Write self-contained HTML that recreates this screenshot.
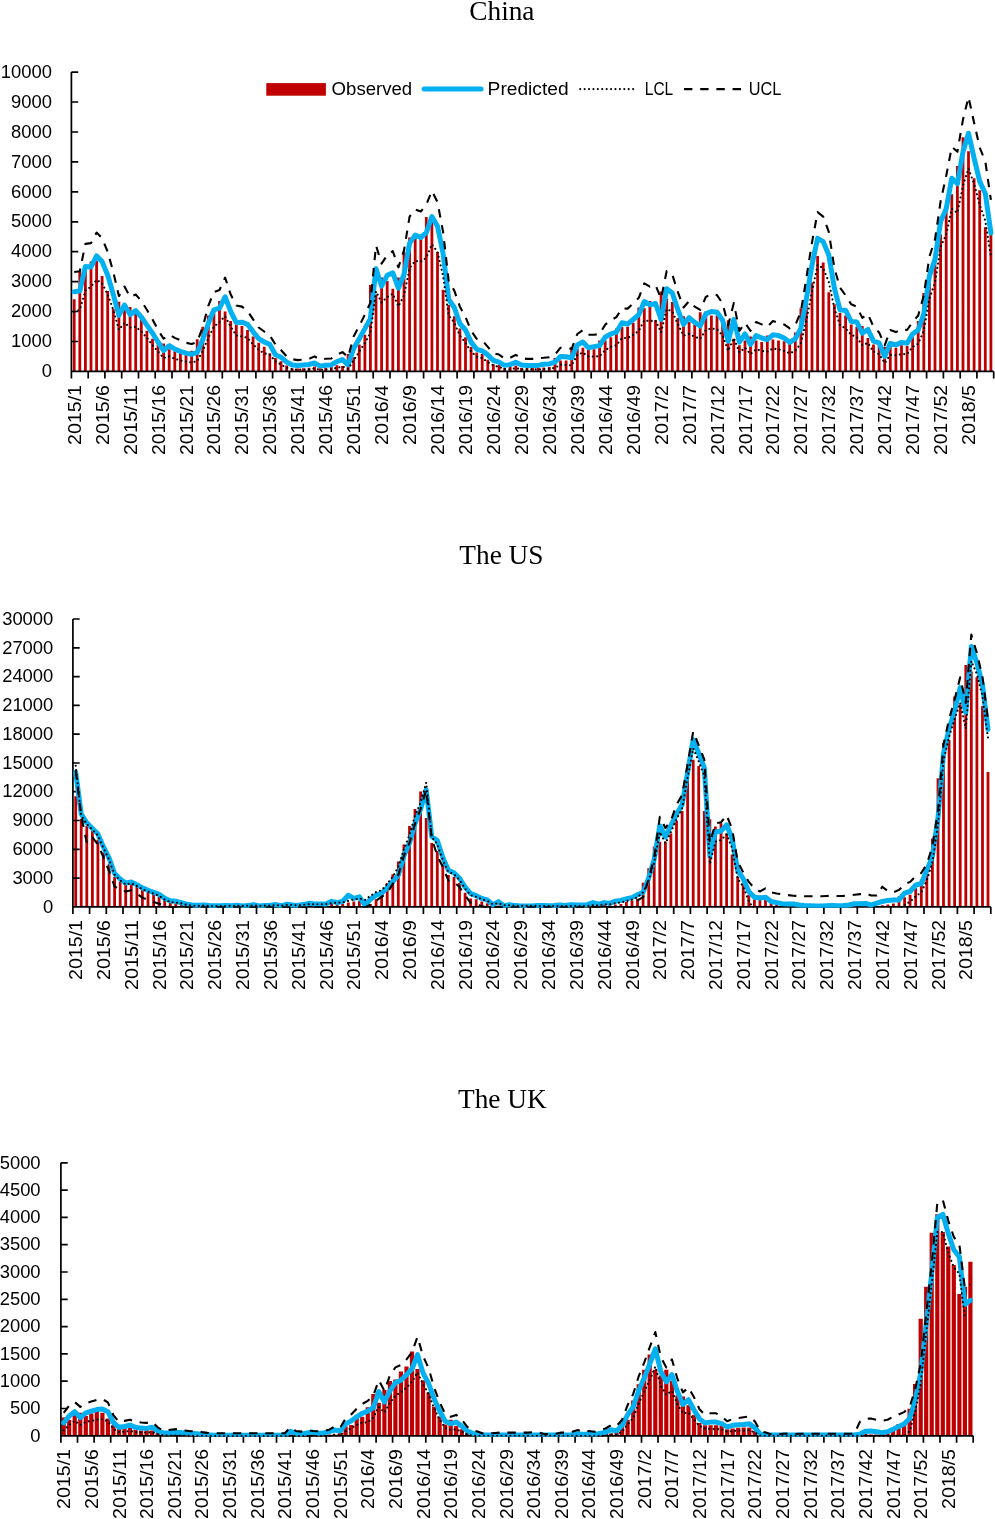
<!DOCTYPE html>
<html lang="en"><head><meta charset="utf-8"><title>Observed and predicted weekly counts: China, The US, The UK</title>
<style>html,body{margin:0;padding:0;background:#fff}body{width:995px;height:1519px;overflow:hidden}svg{display:block;will-change:transform}
.ax{font-family:"Liberation Sans", sans-serif;font-size:18.4px;fill:#000}.lg{font-family:"Liberation Sans", sans-serif;font-size:17.5px;fill:#000}.tt{font-family:"Liberation Serif", serif;font-size:27.3px;fill:#000;text-anchor:middle}
.bar{fill:#C00000}.pred{fill:none;stroke:#00B0F0;stroke-width:5;stroke-linejoin:round;stroke-linecap:round}
.lcl{fill:none;stroke:#000;stroke-width:2.1;stroke-linecap:round;stroke-linejoin:round;stroke-dasharray:0.01 4.4}
.ucl{fill:none;stroke:#000;stroke-width:2.1;stroke-linejoin:round;stroke-dasharray:8.4 7.8}
.axl{stroke:#000;stroke-width:1.7;fill:none}
</style></head><body>
<svg width="995" height="1519" viewBox="0 0 995 1519">
<rect width="995" height="1519" fill="#fff"/>
<g>
<text class="tt" x="501.9" y="19.7">China</text>
<path class="bar" d="M72.8 371.4V299.3h2.8V371.4zM78.4 371.4V271.2h2.8V371.4zM84 371.4V267.2h2.8V371.4zM89.6 371.4V261.6h2.8V371.4zM95.2 371.4V260.8h2.8V371.4zM100.7 371.4V276h2.8V371.4zM106.3 371.4V291h2.8V371.4zM111.9 371.4V309h2.8V371.4zM117.5 371.4V301.8h2.8V371.4zM123.1 371.4V305.8h2.8V371.4zM128.7 371.4V307.1h2.8V371.4zM134.3 371.4V312.2h2.8V371.4zM139.9 371.4V318.6h2.8V371.4zM145.5 371.4V330.7h2.8V371.4zM151.1 371.4V338.7h2.8V371.4zM156.6 371.4V344.4h2.8V371.4zM162.2 371.4V343.6h2.8V371.4zM167.8 371.4V349.2h2.8V371.4zM173.4 371.4V351.6h2.8V371.4zM179 371.4V352.4h2.8V371.4zM184.6 371.4V354h2.8V371.4zM190.2 371.4V350.8h2.8V371.4zM195.8 371.4V339.2h2.8V371.4zM201.4 371.4V326.7h2.8V371.4zM206.9 371.4V315.4h2.8V371.4zM212.5 371.4V312.2h2.8V371.4zM218.1 371.4V301h2.8V371.4zM223.7 371.4V311.4h2.8V371.4zM229.3 371.4V321.1h2.8V371.4zM234.9 371.4V325.1h2.8V371.4zM240.5 371.4V325.9h2.8V371.4zM246.1 371.4V329.9h2.8V371.4zM251.7 371.4V336.6h2.8V371.4zM257.3 371.4V342.8h2.8V371.4zM262.8 371.4V346.8h2.8V371.4zM268.4 371.4V353.2h2.8V371.4zM274 371.4V358h2.8V371.4zM279.6 371.4V361.2h2.8V371.4zM285.2 371.4V365.6h2.8V371.4zM290.8 371.4V368.2h2.8V371.4zM296.4 371.4V368.5h2.8V371.4zM302 371.4V368.2h2.8V371.4zM307.6 371.4V367.7h2.8V371.4zM313.2 371.4V366.6h2.8V371.4zM318.7 371.4V368.2h2.8V371.4zM324.3 371.4V367.7h2.8V371.4zM329.9 371.4V366.9h2.8V371.4zM335.5 371.4V365.3h2.8V371.4zM341.1 371.4V366.1h2.8V371.4zM346.7 371.4V354h2.8V371.4zM352.3 371.4V357.2h2.8V371.4zM357.9 371.4V344.4h2.8V371.4zM363.5 371.4V334.7h2.8V371.4zM369 371.4V284.9h2.8V371.4zM374.6 371.4V294.5h2.8V371.4zM380.2 371.4V277.6h2.8V371.4zM385.8 371.4V281h2.8V371.4zM391.4 371.4V288.7h2.8V371.4zM397 371.4V277.4h2.8V371.4zM402.6 371.4V252h2.8V371.4zM408.2 371.4V237.5h2.8V371.4zM413.8 371.4V239.1h2.8V371.4zM419.4 371.4V239.1h2.8V371.4zM424.9 371.4V217h2.8V371.4zM430.5 371.4V223.1h2.8V371.4zM436.1 371.4V252h2.8V371.4zM441.7 371.4V289.8h2.8V371.4zM447.3 371.4V305.1h2.8V371.4zM452.9 371.4V316.3h2.8V371.4zM458.5 371.4V328.4h2.8V371.4zM464.1 371.4V337.2h2.8V371.4zM469.7 371.4V346.9h2.8V371.4zM475.3 371.4V352.5h2.8V371.4zM480.8 371.4V354.1h2.8V371.4zM486.4 371.4V359.7h2.8V371.4zM492 371.4V364.2h2.8V371.4zM497.6 371.4V364.9h2.8V371.4zM503.2 371.4V368.1h2.8V371.4zM508.8 371.4V367h2.8V371.4zM514.4 371.4V365.4h2.8V371.4zM520 371.4V368.1h2.8V371.4zM525.6 371.4V368.1h2.8V371.4zM531.2 371.4V367.8h2.8V371.4zM536.7 371.4V367.8h2.8V371.4zM542.3 371.4V367.5h2.8V371.4zM547.9 371.4V367h2.8V371.4zM553.5 371.4V358.1h2.8V371.4zM559.1 371.4V360.5h2.8V371.4zM564.7 371.4V360.5h2.8V371.4zM570.3 371.4V346.9h2.8V371.4zM575.9 371.4V348.5h2.8V371.4zM581.5 371.4V347.7h2.8V371.4zM587 371.4V350.1h2.8V371.4zM592.6 371.4V349.3h2.8V371.4zM598.2 371.4V340.4h2.8V371.4zM603.8 371.4V340.4h2.8V371.4zM609.4 371.4V337.2h2.8V371.4zM615 371.4V328.4h2.8V371.4zM620.6 371.4V326.8h2.8V371.4zM626.2 371.4V326.8h2.8V371.4zM631.8 371.4V322.8h2.8V371.4zM637.4 371.4V307.5h2.8V371.4zM642.9 371.4V308.3h2.8V371.4zM648.5 371.4V301.1h2.8V371.4zM654.1 371.4V320.3h2.8V371.4zM659.7 371.4V291.4h2.8V371.4zM665.3 371.4V298.6h2.8V371.4zM670.9 371.4V301.9h2.8V371.4zM676.5 371.4V317.9h2.8V371.4zM682.1 371.4V316.3h2.8V371.4zM687.7 371.4V322h2.8V371.4zM693.3 371.4V324.4h2.8V371.4zM698.8 371.4V312.3h2.8V371.4zM704.4 371.4V311.5h2.8V371.4zM710 371.4V315.5h2.8V371.4zM715.6 371.4V315.5h2.8V371.4zM721.2 371.4V324.4h2.8V371.4zM726.8 371.4V320.3h2.8V371.4zM732.4 371.4V338.8h2.8V371.4zM738 371.4V345.3h2.8V371.4zM743.6 371.4V340.4h2.8V371.4zM749.1 371.4V336.4h2.8V371.4zM754.7 371.4V340.4h2.8V371.4zM760.3 371.4V342.1h2.8V371.4zM765.9 371.4V335.6h2.8V371.4zM771.5 371.4V339.6h2.8V371.4zM777.1 371.4V340.4h2.8V371.4zM782.7 371.4V341.2h2.8V371.4zM788.3 371.4V343.7h2.8V371.4zM793.9 371.4V332.4h2.8V371.4zM799.5 371.4V308.3h2.8V371.4zM805 371.4V285h2.8V371.4zM810.6 371.4V282.6h2.8V371.4zM816.2 371.4V256h2.8V371.4zM821.8 371.4V262.5h2.8V371.4zM827.4 371.4V292.2h2.8V371.4zM833 371.4V304.3h2.8V371.4zM838.6 371.4V313.1h2.8V371.4zM844.2 371.4V315.5h2.8V371.4zM849.8 371.4V324.4h2.8V371.4zM855.4 371.4V326.8h2.8V371.4zM860.9 371.4V326h2.8V371.4zM866.5 371.4V338h2.8V371.4zM872.1 371.4V344.5h2.8V371.4zM877.7 371.4V346.1h2.8V371.4zM883.3 371.4V346.9h2.8V371.4zM888.9 371.4V346.9h2.8V371.4zM894.5 371.4V347.7h2.8V371.4zM900.1 371.4V345.3h2.8V371.4zM905.7 371.4V346.1h2.8V371.4zM911.2 371.4V337.2h2.8V371.4zM916.8 371.4V321.1h2.8V371.4zM922.4 371.4V293h2.8V371.4zM928 371.4V282.6h2.8V371.4zM933.6 371.4V259.4h2.8V371.4zM939.2 371.4V234.5h2.8V371.4zM944.8 371.4V209.5h2.8V371.4zM950.4 371.4V194.3h2.8V371.4zM956 371.4V166.1h2.8V371.4zM961.6 371.4V137.2h2.8V371.4zM967.1 371.4V151.3h2.8V371.4zM972.7 371.4V178.2h2.8V371.4zM978.3 371.4V190.2h2.8V371.4zM983.9 371.4V227.2h2.8V371.4zM989.5 371.4V234.5h2.8V371.4z"/>
<path class="axl" d="M71.4 72.1V371.4H993.7M71.4 371.4h6.8M71.4 341.5h6.8M71.4 311.5h6.8M71.4 281.6h6.8M71.4 251.7h6.8M71.4 221.8h6.8M71.4 191.8h6.8M71.4 161.9h6.8M71.4 132h6.8M71.4 102h6.8M71.4 72.1h6.8M71.4 371.4v7M88.2 371.4v7M104.9 371.4v7M121.7 371.4v7M138.5 371.4v7M155.2 371.4v7M172 371.4v7M188.8 371.4v7M205.6 371.4v7M222.3 371.4v7M239.1 371.4v7M255.9 371.4v7M272.6 371.4v7M289.4 371.4v7M306.2 371.4v7M322.9 371.4v7M339.7 371.4v7M356.5 371.4v7M373.2 371.4v7M390 371.4v7M406.8 371.4v7M423.6 371.4v7M440.3 371.4v7M457.1 371.4v7M473.9 371.4v7M490.6 371.4v7M507.4 371.4v7M524.2 371.4v7M540.9 371.4v7M557.7 371.4v7M574.5 371.4v7M591.2 371.4v7M608 371.4v7M624.8 371.4v7M641.5 371.4v7M658.3 371.4v7M675.1 371.4v7M691.9 371.4v7M708.6 371.4v7M725.4 371.4v7M742.2 371.4v7M758.9 371.4v7M775.7 371.4v7M792.5 371.4v7M809.2 371.4v7M826 371.4v7M842.8 371.4v7M859.5 371.4v7M876.3 371.4v7M893.1 371.4v7M909.9 371.4v7M926.6 371.4v7M943.4 371.4v7M960.2 371.4v7M976.9 371.4v7M993.7 371.4v7"/>
<clipPath id="clip0"><rect x="0" y="0" width="995" height="372.3"/></clipPath>
<g clip-path="url(#clip0)">
<polyline class="pred" points="74.2,291.8 79.8,291 85.4,266.4 91,266.9 96.6,255.9 102.1,261.6 107.7,275.2 113.3,294.5 118.9,315.4 124.5,305 130.1,314.6 135.7,310.6 141.3,317 146.9,325.1 152.5,333.1 158,342 163.6,350.5 169.2,345.7 174.8,349.2 180.4,351.3 186,353.2 191.6,354.3 197.2,352.4 202.8,339.5 208.3,323.5 213.9,309.8 219.5,308.2 225.1,296.8 230.7,311.4 236.3,322.7 241.9,322.2 247.5,324.3 253.1,331.8 258.7,338.7 264.2,342 269.8,344.4 275.4,354.8 281,357.2 286.6,362.1 292.2,364.9 297.8,365.6 303.4,364.9 309,364.5 314.6,362.9 320.1,366.1 325.7,365.3 331.3,364.9 336.9,361.7 342.5,359.6 348.1,364.8 353.7,348.4 359.3,338.7 364.9,328.6 370.4,318.6 376,268.8 381.6,286.2 387.2,275.3 392.8,272.9 398.4,288.2 404,274.5 409.6,243.2 415.2,235.1 420.8,237.5 426.3,232.7 431.9,216.6 437.5,226.3 443.1,253.6 448.7,299.4 454.3,307.5 459.9,323.6 465.5,330 471.1,342.1 476.7,349.3 482.2,350.9 487.8,354.9 493.4,360.5 499,362.2 504.6,365.4 510.2,364.6 515.8,362.2 521.4,365 527,365.4 532.6,365.4 538.1,365.4 543.7,364.2 549.3,363.9 554.9,362.2 560.5,356.5 566.1,356.8 571.7,357.8 577.3,344.9 582.9,342.1 588.4,347.7 594,346.6 599.6,345.6 605.2,337.2 610.8,334 616.4,332.1 622,322.8 627.6,324 633.2,319.5 638.8,314.7 644.3,301.5 649.9,304.7 655.5,303.5 661.1,319.5 666.7,288.7 672.3,293 677.9,309.9 683.5,324.4 689.1,317.6 694.7,322.4 700.2,326 705.8,313.9 711.4,311.5 717,312.3 722.6,320.3 728.2,341.2 733.8,319.5 739.4,342.1 745,334 750.5,344.5 756.1,335.6 761.7,338 767.3,339.6 772.9,334.8 778.5,335.6 784.1,338 789.7,342.4 795.3,338.8 800.9,328.4 806.4,298.6 812,264.9 817.6,238.3 823.2,241.6 828.8,255.2 834.4,288.2 840,309.9 845.6,310.2 851.2,321.5 856.8,322 862.3,333.2 867.9,329.5 873.5,341.2 879.1,342.9 884.7,356.5 890.3,343.3 895.9,344.9 901.5,342.4 907.1,343.3 912.6,334 918.2,330 923.8,313.9 929.4,276.1 935,259.4 940.6,221.6 946.2,208.7 951.8,178.2 957.4,183.8 963,151.7 968.5,133.2 974.1,158.1 979.7,181.4 985.3,193.5 990.9,232.9"/>
<polyline class="lcl" points="74.2,312.2 79.8,309.8 85.4,290.5 91,286.5 96.6,280 102.1,283.3 107.7,294.5 113.3,309.8 118.9,329.9 124.5,322.7 130.1,327.5 135.7,326.7 141.3,331.5 146.9,337.9 152.5,345.2 158,351.6 163.6,358 169.2,356.4 174.8,358.8 180.4,360.4 186,361.7 191.6,362.4 197.2,361.2 202.8,350.8 208.3,337.9 213.9,326.7 219.5,321.9 225.1,316.2 230.7,326.7 236.3,335.5 241.9,336.3 247.5,337.9 253.1,344.4 258.7,350 264.2,353.2 269.8,354.8 275.4,361.2 281,364.5 286.6,367.7 292.2,369.3 297.8,369.8 303.4,369.5 309,369.3 314.6,368.5 320.1,369.8 325.7,369.5 331.3,369.3 336.9,367.7 342.5,366.6 348.1,368.8 353.7,360.4 359.3,351.6 364.9,342.8 370.4,333.1 376,291.3 381.6,302.6 387.2,297 392.8,293.8 398.4,306.4 404,295.4 409.6,268.1 415.2,260.9 420.8,261.7 426.3,257.6 431.9,244.3 437.5,252 443.1,276.1 448.7,315.5 454.3,322.8 459.9,335.6 465.5,342.9 471.1,351.7 476.7,356.5 482.2,358.1 487.8,362.2 493.4,365.4 499,367 504.6,369.1 510.2,369.4 515.8,368.1 521.4,369.4 527,369.4 532.6,369.4 538.1,369.4 543.7,369.1 549.3,368.7 554.9,367.8 560.5,364.6 566.1,364.9 571.7,365.4 577.3,354.9 582.9,352.5 588.4,356.5 594,356.5 599.6,356.2 605.2,350.1 610.8,346.9 616.4,345.3 622,338 627.6,338 633.2,334.8 638.8,330.8 644.3,320.3 649.9,321.1 655.5,320.3 661.1,332.4 666.7,309.1 672.3,311.5 677.9,324.4 683.5,335.6 689.1,334 694.7,336.7 700.2,338.8 705.8,330 711.4,328.4 717,329.2 722.6,335.6 728.2,350.9 733.8,338 739.4,352.5 745,347.7 750.5,354.1 756.1,349.3 761.7,350.9 767.3,351.7 772.9,348.5 778.5,349.3 784.1,350.9 789.7,353.3 795.3,350.9 800.9,342.9 806.4,320.3 812,291.4 817.6,264.9 823.2,268.1 828.8,281.8 834.4,308.3 840,325.2 845.6,328.4 851.2,334.8 856.8,337.2 862.3,345.3 867.9,342.9 873.5,351.7 879.1,354.1 884.7,363 890.3,354.9 895.9,355.2 901.5,354.1 907.1,354.1 912.6,346.9 918.2,343.7 923.8,330.8 929.4,298.6 935,282.7 940.6,247.3 946.2,234.5 951.8,208.7 957.4,212.8 963,185.4 968.5,168.5 974.1,183.8 979.7,204.7 985.3,220.8 990.9,257"/>
<polyline class="ucl" points="74.2,272 79.8,271.2 85.4,243.9 91,243.1 96.6,232.6 102.1,238.2 107.7,251.9 113.3,272 118.9,296.1 124.5,286.5 130.1,296.9 135.7,294.5 141.3,301 146.9,309.8 152.5,319.4 158,329.9 163.6,338.7 169.2,334.7 174.8,337.9 180.4,340.3 186,342.8 191.6,344 197.2,342 202.8,326.7 208.3,305.8 213.9,292.1 219.5,290 225.1,277.6 230.7,294.5 236.3,305.5 241.9,306.6 247.5,310.9 253.1,319.4 258.7,327.5 264.2,331.5 269.8,335.5 275.4,344.4 281,350 286.6,356.4 292.2,359.2 297.8,360.1 303.4,359.6 309,358.8 314.6,356.4 320.1,359.6 325.7,358.8 331.3,358.5 336.9,354.8 342.5,352.1 348.1,357.2 353.7,336.3 359.3,325.9 364.9,314.6 370.4,302.6 376,245.5 381.6,263.6 387.2,255.2 392.8,251.2 398.4,267.3 404,250.4 409.6,216.6 415.2,209.4 420.8,211.5 426.3,204.6 431.9,190.9 437.5,202.2 443.1,231.9 448.7,281 454.3,290.6 459.9,306.7 465.5,317.1 471.1,330.8 476.7,338.8 482.2,340.4 487.8,346.9 493.4,353.3 499,354.6 504.6,358.5 510.2,357.8 515.8,354.9 521.4,358.1 527,358.9 532.6,358.9 538.1,358.1 543.7,357.8 549.3,357.3 554.9,354.9 560.5,347.7 566.1,348.2 571.7,348.8 577.3,334 582.9,330 588.4,334.8 594,334.8 599.6,334 605.2,324.7 610.8,320.3 616.4,317.1 622,308.3 627.6,308.6 633.2,303.5 638.8,297.8 644.3,283.4 649.9,286.6 655.5,285 661.1,298.6 666.7,271 672.3,274.5 677.9,292.2 683.5,307.5 689.1,301.1 694.7,306.7 700.2,309.9 705.8,297 711.4,294.1 717,295.1 722.6,303.5 728.2,325.2 733.8,303.1 739.4,330.8 745,322.8 750.5,330.8 756.1,322 761.7,324.4 767.3,326.8 772.9,321.1 778.5,322.8 784.1,324.4 789.7,328.4 795.3,325.2 800.9,311.5 806.4,277.7 812,242.4 817.6,212.1 823.2,216.6 828.8,231.9 834.4,268.1 840,287.7 845.6,295.4 851.2,304.3 856.8,306.7 862.3,317.9 867.9,313.9 873.5,326.8 879.1,332.4 884.7,345.3 890.3,330 895.9,332.1 901.5,329.2 907.1,330 912.6,322 918.2,315.5 923.8,295.4 929.4,256.8 935,239.3 940.6,201.5 946.2,175.8 951.8,146.8 957.4,151.7 963,119.5 968.5,97 974.1,122.7 979.7,147.6 985.3,161.3 990.9,199.9"/>
</g>
<text class="ax" text-anchor="end" x="51.9" y="377.1">0</text>
<text class="ax" text-anchor="end" x="51.9" y="347.2">1000</text>
<text class="ax" text-anchor="end" x="51.9" y="317.2">2000</text>
<text class="ax" text-anchor="end" x="51.9" y="287.3">3000</text>
<text class="ax" text-anchor="end" x="51.9" y="257.4">4000</text>
<text class="ax" text-anchor="end" x="51.9" y="227.4">5000</text>
<text class="ax" text-anchor="end" x="51.9" y="197.5">6000</text>
<text class="ax" text-anchor="end" x="51.9" y="167.6">7000</text>
<text class="ax" text-anchor="end" x="51.9" y="137.7">8000</text>
<text class="ax" text-anchor="end" x="51.9" y="107.7">9000</text>
<text class="ax" text-anchor="end" x="51.9" y="77.8">10000</text>
<text class="ax" transform="translate(80.7 445) rotate(-90)" textLength="60" lengthAdjust="spacingAndGlyphs">2015/1</text>
<text class="ax" transform="translate(108.6 445) rotate(-90)" textLength="60" lengthAdjust="spacingAndGlyphs">2015/6</text>
<text class="ax" transform="translate(136.6 455.1) rotate(-90)" textLength="70.1" lengthAdjust="spacingAndGlyphs">2015/11</text>
<text class="ax" transform="translate(164.5 455.1) rotate(-90)" textLength="70.1" lengthAdjust="spacingAndGlyphs">2015/16</text>
<text class="ax" transform="translate(192.5 455.1) rotate(-90)" textLength="70.1" lengthAdjust="spacingAndGlyphs">2015/21</text>
<text class="ax" transform="translate(220.4 455.1) rotate(-90)" textLength="70.1" lengthAdjust="spacingAndGlyphs">2015/26</text>
<text class="ax" transform="translate(248.4 455.1) rotate(-90)" textLength="70.1" lengthAdjust="spacingAndGlyphs">2015/31</text>
<text class="ax" transform="translate(276.3 455.1) rotate(-90)" textLength="70.1" lengthAdjust="spacingAndGlyphs">2015/36</text>
<text class="ax" transform="translate(304.3 455.1) rotate(-90)" textLength="70.1" lengthAdjust="spacingAndGlyphs">2015/41</text>
<text class="ax" transform="translate(332.2 455.1) rotate(-90)" textLength="70.1" lengthAdjust="spacingAndGlyphs">2015/46</text>
<text class="ax" transform="translate(360.2 455.1) rotate(-90)" textLength="70.1" lengthAdjust="spacingAndGlyphs">2015/51</text>
<text class="ax" transform="translate(388.1 445) rotate(-90)" textLength="60" lengthAdjust="spacingAndGlyphs">2016/4</text>
<text class="ax" transform="translate(416.1 445) rotate(-90)" textLength="60" lengthAdjust="spacingAndGlyphs">2016/9</text>
<text class="ax" transform="translate(444 455.1) rotate(-90)" textLength="70.1" lengthAdjust="spacingAndGlyphs">2016/14</text>
<text class="ax" transform="translate(472 455.1) rotate(-90)" textLength="70.1" lengthAdjust="spacingAndGlyphs">2016/19</text>
<text class="ax" transform="translate(499.9 455.1) rotate(-90)" textLength="70.1" lengthAdjust="spacingAndGlyphs">2016/24</text>
<text class="ax" transform="translate(527.9 455.1) rotate(-90)" textLength="70.1" lengthAdjust="spacingAndGlyphs">2016/29</text>
<text class="ax" transform="translate(555.8 455.1) rotate(-90)" textLength="70.1" lengthAdjust="spacingAndGlyphs">2016/34</text>
<text class="ax" transform="translate(583.8 455.1) rotate(-90)" textLength="70.1" lengthAdjust="spacingAndGlyphs">2016/39</text>
<text class="ax" transform="translate(611.7 455.1) rotate(-90)" textLength="70.1" lengthAdjust="spacingAndGlyphs">2016/44</text>
<text class="ax" transform="translate(639.7 455.1) rotate(-90)" textLength="70.1" lengthAdjust="spacingAndGlyphs">2016/49</text>
<text class="ax" transform="translate(667.6 445) rotate(-90)" textLength="60" lengthAdjust="spacingAndGlyphs">2017/2</text>
<text class="ax" transform="translate(695.6 445) rotate(-90)" textLength="60" lengthAdjust="spacingAndGlyphs">2017/7</text>
<text class="ax" transform="translate(723.5 455.1) rotate(-90)" textLength="70.1" lengthAdjust="spacingAndGlyphs">2017/12</text>
<text class="ax" transform="translate(751.5 455.1) rotate(-90)" textLength="70.1" lengthAdjust="spacingAndGlyphs">2017/17</text>
<text class="ax" transform="translate(779.4 455.1) rotate(-90)" textLength="70.1" lengthAdjust="spacingAndGlyphs">2017/22</text>
<text class="ax" transform="translate(807.4 455.1) rotate(-90)" textLength="70.1" lengthAdjust="spacingAndGlyphs">2017/27</text>
<text class="ax" transform="translate(835.3 455.1) rotate(-90)" textLength="70.1" lengthAdjust="spacingAndGlyphs">2017/32</text>
<text class="ax" transform="translate(863.3 455.1) rotate(-90)" textLength="70.1" lengthAdjust="spacingAndGlyphs">2017/37</text>
<text class="ax" transform="translate(891.2 455.1) rotate(-90)" textLength="70.1" lengthAdjust="spacingAndGlyphs">2017/42</text>
<text class="ax" transform="translate(919.1 455.1) rotate(-90)" textLength="70.1" lengthAdjust="spacingAndGlyphs">2017/47</text>
<text class="ax" transform="translate(947.1 455.1) rotate(-90)" textLength="70.1" lengthAdjust="spacingAndGlyphs">2017/52</text>
<text class="ax" transform="translate(975 445) rotate(-90)" textLength="60" lengthAdjust="spacingAndGlyphs">2018/5</text>
</g>
<g>
<text class="tt" x="501.4" y="563.8">The US</text>
<path class="bar" d="M74.3 906.9V796.3h2.8V906.9zM79.8 906.9V818.8h2.8V906.9zM85.4 906.9V826h2.8V906.9zM91 906.9V830h2.8V906.9zM96.5 906.9V839.7h2.8V906.9zM102.1 906.9V852.6h2.8V906.9zM107.7 906.9V863.8h2.8V906.9zM113.2 906.9V876.7h2.8V906.9zM118.8 906.9V881.5h2.8V906.9zM124.3 906.9V884.7h2.8V906.9zM129.9 906.9V883.9h2.8V906.9zM135.5 906.9V886.6h2.8V906.9zM141 906.9V889.5h2.8V906.9zM146.6 906.9V892h2.8V906.9zM152.2 906.9V894h2.8V906.9zM157.7 906.9V896.8h2.8V906.9zM163.3 906.9V900h2.8V906.9zM168.9 906.9V902.1h2.8V906.9zM174.4 906.9V902.7h2.8V906.9zM180 906.9V903.4h2.8V906.9zM185.5 906.9V904.8h2.8V906.9zM191.1 906.9V905.3h2.8V906.9zM196.7 906.9V905.6h2.8V906.9zM202.2 906.9V905.6h2.8V906.9zM207.8 906.9V905.6h2.8V906.9zM213.4 906.9V905.6h2.8V906.9zM218.9 906.9V905.6h2.8V906.9zM224.5 906.9V905.6h2.8V906.9zM230 906.9V905.6h2.8V906.9zM235.6 906.9V905.6h2.8V906.9zM241.2 906.9V905.6h2.8V906.9zM246.7 906.9V905.6h2.8V906.9zM252.3 906.9V905.6h2.8V906.9zM257.9 906.9V905.6h2.8V906.9zM263.4 906.9V905.6h2.8V906.9zM269 906.9V905.6h2.8V906.9zM274.6 906.9V905.6h2.8V906.9zM280.1 906.9V905.6h2.8V906.9zM285.7 906.9V905.6h2.8V906.9zM291.2 906.9V905.6h2.8V906.9zM296.8 906.9V905.6h2.8V906.9zM302.4 906.9V905.6h2.8V906.9zM307.9 906.9V905.6h2.8V906.9zM313.5 906.9V905.6h2.8V906.9zM319.1 906.9V905.6h2.8V906.9zM324.6 906.9V905.6h2.8V906.9zM330.2 906.9V904h2.8V906.9zM335.7 906.9V904.3h2.8V906.9zM341.3 906.9V903.7h2.8V906.9zM346.9 906.9V902.4h2.8V906.9zM352.4 906.9V901.6h2.8V906.9zM358 906.9V900.8h2.8V906.9zM363.6 906.9V901.6h2.8V906.9zM369.1 906.9V904h2.8V906.9zM374.7 906.9V899.2h2.8V906.9zM380.2 906.9V894.4h2.8V906.9zM385.8 906.9V883.1h2.8V906.9zM391.4 906.9V874.3h2.8V906.9zM396.9 906.9V861.4h2.8V906.9zM402.5 906.9V844.5h2.8V906.9zM408.1 906.9V826h2.8V906.9zM413.6 906.9V809.1h2.8V906.9zM419.2 906.9V791.5h2.8V906.9zM424.8 906.9V818h2.8V906.9zM430.3 906.9V842.9h2.8V906.9zM435.9 906.9V851h2.8V906.9zM441.4 906.9V863.8h2.8V906.9zM447 906.9V875.1h2.8V906.9zM452.6 906.9V876.7h2.8V906.9zM458.1 906.9V883.1h2.8V906.9zM463.7 906.9V892.8h2.8V906.9zM469.3 906.9V898.4h2.8V906.9zM474.8 906.9V899.2h2.8V906.9zM480.4 906.9V901.6h2.8V906.9zM485.9 906.9V903.2h2.8V906.9zM491.5 906.9V905.6h2.8V906.9zM497.1 906.9V905.6h2.8V906.9zM502.6 906.9V905.6h2.8V906.9zM508.2 906.9V905.6h2.8V906.9zM513.8 906.9V905.6h2.8V906.9zM519.3 906.9V905.6h2.8V906.9zM524.9 906.9V905.6h2.8V906.9zM530.4 906.9V905.6h2.8V906.9zM536 906.9V905.6h2.8V906.9zM541.6 906.9V906h2.8V906.9zM547.1 906.9V906h2.8V906.9zM552.7 906.9V906h2.8V906.9zM558.3 906.9V906h2.8V906.9zM563.8 906.9V906h2.8V906.9zM569.4 906.9V906h2.8V906.9zM575 906.9V906h2.8V906.9zM580.5 906.9V906h2.8V906.9zM586.1 906.9V906h2.8V906.9zM591.6 906.9V905.2h2.8V906.9zM597.2 906.9V905.4h2.8V906.9zM602.8 906.9V905h2.8V906.9zM608.3 906.9V904.4h2.8V906.9zM613.9 906.9V904.4h2.8V906.9zM619.5 906.9V904.1h2.8V906.9zM625 906.9V902h2.8V906.9zM630.6 906.9V900.4h2.8V906.9zM636.1 906.9V898.8h2.8V906.9zM641.7 906.9V882.7h2.8V906.9zM647.3 906.9V868.2h2.8V906.9zM652.8 906.9V846.5h2.8V906.9zM658.4 906.9V841.7h2.8V906.9zM664 906.9V841.7h2.8V906.9zM669.5 906.9V833.6h2.8V906.9zM675.1 906.9V820.8h2.8V906.9zM680.7 906.9V811.1h2.8V906.9zM686.2 906.9V764.5h2.8V906.9zM691.8 906.9V759.7h2.8V906.9zM697.3 906.9V766.1h2.8V906.9zM702.9 906.9V811.1h2.8V906.9zM708.5 906.9V819.2h2.8V906.9zM714 906.9V826.4h2.8V906.9zM719.6 906.9V823.2h2.8V906.9zM725.2 906.9V833.6h2.8V906.9zM730.7 906.9V854.5h2.8V906.9zM736.3 906.9V877.1h2.8V906.9zM741.8 906.9V883.5h2.8V906.9zM747.4 906.9V894.7h2.8V906.9zM753 906.9V899.6h2.8V906.9zM758.5 906.9V895.5h2.8V906.9zM764.1 906.9V897.2h2.8V906.9zM769.7 906.9V900.4h2.8V906.9zM775.2 906.9V904.4h2.8V906.9zM780.8 906.9V906h2.8V906.9zM786.3 906.9V906h2.8V906.9zM791.9 906.9V906h2.8V906.9zM797.5 906.9V906h2.8V906.9zM803 906.9V906h2.8V906.9zM808.6 906.9V906h2.8V906.9zM814.2 906.9V906h2.8V906.9zM819.7 906.9V906h2.8V906.9zM825.3 906.9V906h2.8V906.9zM830.9 906.9V906h2.8V906.9zM836.4 906.9V906h2.8V906.9zM842 906.9V906h2.8V906.9zM847.5 906.9V906h2.8V906.9zM853.1 906.9V906h2.8V906.9zM858.7 906.9V906h2.8V906.9zM864.2 906.9V906h2.8V906.9zM869.8 906.9V906h2.8V906.9zM875.4 906.9V905.7h2.8V906.9zM880.9 906.9V905.2h2.8V906.9zM886.5 906.9V904.4h2.8V906.9zM892 906.9V903.6h2.8V906.9zM897.6 906.9V896.3h2.8V906.9zM903.2 906.9V897.2h2.8V906.9zM908.7 906.9V894.7h2.8V906.9zM914.3 906.9V888.3h2.8V906.9zM919.9 906.9V879.5h2.8V906.9zM925.4 906.9V872.2h2.8V906.9zM931 906.9V838.5h2.8V906.9zM936.6 906.9V778.2h2.8V906.9zM942.1 906.9V743.1h2.8V906.9zM947.7 906.9V739.9h2.8V906.9zM953.2 906.9V696.5h2.8V906.9zM958.8 906.9V704.5h2.8V906.9zM964.4 906.9V665.1h2.8V906.9zM969.9 906.9V671.6h2.8V906.9zM975.5 906.9V677.2h2.8V906.9zM981.1 906.9V706.1h2.8V906.9zM986.6 906.9V772.1h2.8V906.9z"/>
<path class="axl" d="M72.9 619V906.9H990.8M72.9 906.9h6.8M72.9 878.1h6.8M72.9 849.3h6.8M72.9 820.5h6.8M72.9 791.7h6.8M72.9 763h6.8M72.9 734.2h6.8M72.9 705.4h6.8M72.9 676.6h6.8M72.9 647.8h6.8M72.9 619h6.8M72.9 906.9v7M89.6 906.9v7M106.3 906.9v7M123 906.9v7M139.7 906.9v7M156.3 906.9v7M173 906.9v7M189.7 906.9v7M206.4 906.9v7M223.1 906.9v7M239.8 906.9v7M256.5 906.9v7M273.2 906.9v7M289.9 906.9v7M306.5 906.9v7M323.2 906.9v7M339.9 906.9v7M356.6 906.9v7M373.3 906.9v7M390 906.9v7M406.7 906.9v7M423.4 906.9v7M440.1 906.9v7M456.7 906.9v7M473.4 906.9v7M490.1 906.9v7M506.8 906.9v7M523.5 906.9v7M540.2 906.9v7M556.9 906.9v7M573.6 906.9v7M590.3 906.9v7M607 906.9v7M623.6 906.9v7M640.3 906.9v7M657 906.9v7M673.7 906.9v7M690.4 906.9v7M707.1 906.9v7M723.8 906.9v7M740.5 906.9v7M757.2 906.9v7M773.8 906.9v7M790.5 906.9v7M807.2 906.9v7M823.9 906.9v7M840.6 906.9v7M857.3 906.9v7M874 906.9v7M890.7 906.9v7M907.4 906.9v7M924 906.9v7M940.7 906.9v7M957.4 906.9v7M974.1 906.9v7M990.8 906.9v7"/>
<clipPath id="clip1"><rect x="0" y="0" width="995" height="907.8"/></clipPath>
<g clip-path="url(#clip1)">
<polyline class="pred" points="75.7,772.2 81.2,814 86.8,822.8 92.4,828.4 97.9,834.1 103.5,846.9 109.1,858.2 114.6,873.5 120.2,879.1 125.7,883.1 131.3,882 136.9,884.7 142.4,887.9 148,890.3 153.6,892.4 159.1,894.4 164.7,898.4 170.3,900.8 175.8,901.3 181.4,902.7 186.9,904.3 192.5,904.9 198.1,905.3 203.6,904.9 209.2,905.6 214.8,905.7 220.3,905.7 225.9,905.4 231.4,905.7 237,905.3 242.6,905.9 248.1,905.6 253.7,904.6 259.3,905.9 264.8,905.4 270.4,905.3 276,904.6 281.5,905.6 287.1,904.3 292.6,904.9 298.2,905.3 303.8,904.6 309.3,903.3 314.9,904 320.5,904 326,904 331.6,901.3 337.1,902.7 342.7,901.3 348.3,895.2 353.8,898.4 359.4,896.8 365,905.4 370.5,899.2 376.1,895.2 381.6,893.1 387.2,887.9 392.8,881.5 398.3,875.1 403.9,855.8 409.5,842.9 415,823.6 420.6,809.1 426.2,789.8 431.7,836.5 437.3,840.5 442.8,857.4 448.4,870.2 454,872.7 459.5,878.3 465.1,887.1 470.7,893.6 476.2,895.7 481.8,898.4 487.3,900 492.9,904.6 498.5,901.6 504,905.9 509.6,904.6 515.2,905.6 520.7,905.9 526.3,905.9 531.8,905.9 537.4,905.6 543,905.5 548.5,905.8 554.1,905.6 559.7,905 565.2,905.5 570.8,904.7 576.4,905 581.9,905 587.5,904.7 593,902.6 598.6,904.2 604.2,902.6 609.7,903.4 615.3,901.2 620.9,900.4 626.4,898.8 632,897.6 637.5,894.7 643.1,892.3 648.7,877.9 654.2,859.4 659.8,825.6 665.4,836.9 670.9,825.6 676.5,814.3 682.1,804.7 687.6,772.5 693.2,739.6 698.7,753.2 704.3,767.7 709.9,856.1 715.4,832 721,831.2 726.6,824.8 732.1,838.5 737.7,870.6 743.2,878.7 748.8,891.5 754.4,897.2 759.9,898 765.5,897.2 771.1,901.5 776.6,902.6 782.2,903.7 787.7,903.9 793.3,903.9 798.9,905 804.4,905.5 810,905.8 815.6,906 821.1,906 826.7,905.8 832.3,905.6 837.8,905.8 843.4,905.6 848.9,905 854.5,903.7 860.1,903.7 865.6,903.4 871.2,905 876.8,903.1 882.3,901.5 887.9,900.4 893.4,899.9 899,899.9 904.6,893.1 910.1,891.5 915.7,885.1 921.3,883.5 926.8,870.6 932.4,856.1 938,817.6 943.5,753.6 949.1,728.6 954.6,711 960.2,687.6 965.8,712.6 971.3,646.6 976.9,662.7 982.5,685.2 988,729.4"/>
<polyline class="lcl" points="75.7,765.7 81.2,815.3 86.8,824.1 92.4,829.7 97.9,835.4 103.5,848.2 109.1,859.5 114.6,874.7 120.2,880.4 125.7,884.4 131.3,883.3 136.9,886 142.4,889.2 148,891.6 153.6,893.7 159.1,895.7 164.7,899.7 170.3,902.1 175.8,902.6 181.4,903.4 186.9,905 192.5,905.6 198.1,905.9 203.6,905.6 209.2,905.9 214.8,906.1 220.3,906.1 225.9,905.9 231.4,905.9 237,905.6 242.6,905.9 248.1,905.8 253.7,905.3 259.3,905.9 264.8,905.6 270.4,905.6 276,905 281.5,905.6 287.1,904.8 292.6,905.1 298.2,905.3 303.8,904.8 309.3,904 314.9,904.3 320.5,904.3 326,904 331.6,903.2 337.1,902.7 342.7,902.4 348.3,900.8 353.8,899.5 359.4,898.4 365,900 370.5,895.7 376.1,892 381.6,890.3 387.2,883.9 392.8,876.7 398.3,867 403.9,849.3 409.5,834.9 415,815.6 420.6,802.7 426.2,782.6 431.7,836.5 437.3,844.5 442.8,859.8 448.4,871.9 454,874.3 459.5,879.9 465.1,888.7 470.7,895.2 476.2,896.8 481.8,899.2 487.3,900.8 492.9,904.3 498.5,903.2 504,905.3 509.6,905.3 515.2,905.6 520.7,905.9 526.3,905.9 531.8,905.9 537.4,905.9 543,906 548.5,906 554.1,906 559.7,906 565.2,906 570.8,906 576.4,906 581.9,906 587.5,906 593,905.2 598.6,905.2 604.2,904.4 609.7,904.4 615.3,903.1 620.9,902.5 626.4,901.2 632,899.6 637.5,897.2 643.1,892.3 648.7,880.3 654.2,862.6 659.8,832 665.4,843.3 670.9,832 676.5,819.2 682.1,808.7 687.6,777.4 693.2,748.4 698.7,761.3 704.3,775.8 709.9,864.2 715.4,841.7 721,840.1 726.6,834.4 732.1,848.1 737.7,878.7 743.2,886.7 748.8,901.2 754.4,910 759.9,910 765.5,910 771.1,910 776.6,910 782.2,910 787.7,910 793.3,910 798.9,910 804.4,910 810,910 815.6,910 821.1,910 826.7,910 832.3,910 837.8,910 843.4,910 848.9,910 854.5,910 860.1,910 865.6,910 871.2,910 876.8,910 882.3,910 887.9,910 893.4,910 899,910 904.6,905.2 910.1,901.5 915.7,896.3 921.3,892.3 926.8,880.3 932.4,862.6 938,824 943.5,760.8 949.1,736.7 954.6,719 960.2,702.9 965.8,728.6 971.3,661.1 976.9,674 982.5,696.5 988,738.3"/>
<polyline class="ucl" points="75.7,770.6 81.2,815.6 86.8,842.9 92.4,837.3 97.9,844.5 103.5,857.4 109.1,871.1 114.6,886.3 120.2,890.3 125.7,891.5 131.3,890.3 136.9,893.6 142.4,897.6 148,900 153.6,902.1 159.1,903.7 164.7,906.1 170.3,906.9 175.8,907.4 181.4,907.4 186.9,907.4 192.5,907.4 198.1,907.4 203.6,907.4 209.2,907.4 214.8,907.4 220.3,907.4 225.9,907.4 231.4,907.4 237,907.4 242.6,907.4 248.1,907.4 253.7,907.4 259.3,907.4 264.8,907.4 270.4,907.4 276,907.4 281.5,907.4 287.1,907.4 292.6,907.4 298.2,907.4 303.8,907.4 309.3,907.4 314.9,907.4 320.5,907.4 326,907.4 331.6,907.4 337.1,907.4 342.7,907.4 348.3,907.4 353.8,907.4 359.4,907.4 365,907.4 370.5,904.8 376.1,900.5 381.6,896.8 387.2,892.8 392.8,883.9 398.3,875.1 403.9,855.8 409.5,842.9 415,823.6 420.6,809.1 426.2,789.8 431.7,838.1 437.3,855.8 442.8,867 448.4,880.7 454,881.8 459.5,887.1 465.1,895.2 470.7,903.2 476.2,904.3 481.8,906.3 487.3,907.4 492.9,907.4 498.5,907.4 504,907.4 509.6,907.4 515.2,907.4 520.7,907.4 526.3,907.4 531.8,907.4 537.4,907.4 543,907.4 548.5,907.4 554.1,907.4 559.7,907.4 565.2,907.4 570.8,907.4 576.4,907.4 581.9,907.4 587.5,907.4 593,907.4 598.6,907.4 604.2,907.4 609.7,907.4 615.3,907.4 620.9,907.4 626.4,907.4 632,907.4 637.5,900.4 643.1,897.2 648.7,878.7 654.2,857.8 659.8,816.8 665.4,828 670.9,820.8 676.5,804.7 682.1,795 687.6,764.5 693.2,731.5 698.7,745.2 704.3,759.7 709.9,843.3 715.4,823.2 721,822.4 726.6,815.1 732.1,828.8 737.7,861.8 743.2,872.2 748.8,881.9 754.4,888.3 759.9,891.5 765.5,888.3 771.1,892.3 776.6,893.5 782.2,894.4 787.7,895.1 793.3,895.7 798.9,896 804.4,896.3 810,896.3 815.6,896.3 821.1,896.3 826.7,896 832.3,895.7 837.8,896 843.4,895.9 848.9,895.5 854.5,894.7 860.1,894.1 865.6,893.5 871.2,895.5 876.8,895.5 882.3,886.7 887.9,891.2 893.4,892.3 899,889.9 904.6,884.3 910.1,881.9 915.7,876.2 921.3,873 926.8,864.2 932.4,846.5 938,811.1 943.5,744.7 949.1,719 954.6,699.7 960.2,677.2 965.8,702.9 971.3,634.6 976.9,653.1 982.5,677.2 988,720.6"/>
</g>
<text class="ax" text-anchor="end" x="53.3" y="912.6">0</text>
<text class="ax" text-anchor="end" x="53.3" y="883.8">3000</text>
<text class="ax" text-anchor="end" x="53.3" y="855">6000</text>
<text class="ax" text-anchor="end" x="53.3" y="826.2">9000</text>
<text class="ax" text-anchor="end" x="53.3" y="797.4">12000</text>
<text class="ax" text-anchor="end" x="53.3" y="768.7">15000</text>
<text class="ax" text-anchor="end" x="53.3" y="739.9">18000</text>
<text class="ax" text-anchor="end" x="53.3" y="711.1">21000</text>
<text class="ax" text-anchor="end" x="53.3" y="682.3">24000</text>
<text class="ax" text-anchor="end" x="53.3" y="653.5">27000</text>
<text class="ax" text-anchor="end" x="53.3" y="624.7">30000</text>
<text class="ax" transform="translate(82.2 980) rotate(-90)" textLength="60" lengthAdjust="spacingAndGlyphs">2015/1</text>
<text class="ax" transform="translate(110 980) rotate(-90)" textLength="60" lengthAdjust="spacingAndGlyphs">2015/6</text>
<text class="ax" transform="translate(137.8 990.1) rotate(-90)" textLength="70.1" lengthAdjust="spacingAndGlyphs">2015/11</text>
<text class="ax" transform="translate(165.6 990.1) rotate(-90)" textLength="70.1" lengthAdjust="spacingAndGlyphs">2015/16</text>
<text class="ax" transform="translate(193.4 990.1) rotate(-90)" textLength="70.1" lengthAdjust="spacingAndGlyphs">2015/21</text>
<text class="ax" transform="translate(221.3 990.1) rotate(-90)" textLength="70.1" lengthAdjust="spacingAndGlyphs">2015/26</text>
<text class="ax" transform="translate(249.1 990.1) rotate(-90)" textLength="70.1" lengthAdjust="spacingAndGlyphs">2015/31</text>
<text class="ax" transform="translate(276.9 990.1) rotate(-90)" textLength="70.1" lengthAdjust="spacingAndGlyphs">2015/36</text>
<text class="ax" transform="translate(304.7 990.1) rotate(-90)" textLength="70.1" lengthAdjust="spacingAndGlyphs">2015/41</text>
<text class="ax" transform="translate(332.5 990.1) rotate(-90)" textLength="70.1" lengthAdjust="spacingAndGlyphs">2015/46</text>
<text class="ax" transform="translate(360.3 990.1) rotate(-90)" textLength="70.1" lengthAdjust="spacingAndGlyphs">2015/51</text>
<text class="ax" transform="translate(388.1 980) rotate(-90)" textLength="60" lengthAdjust="spacingAndGlyphs">2016/4</text>
<text class="ax" transform="translate(416 980) rotate(-90)" textLength="60" lengthAdjust="spacingAndGlyphs">2016/9</text>
<text class="ax" transform="translate(443.8 990.1) rotate(-90)" textLength="70.1" lengthAdjust="spacingAndGlyphs">2016/14</text>
<text class="ax" transform="translate(471.6 990.1) rotate(-90)" textLength="70.1" lengthAdjust="spacingAndGlyphs">2016/19</text>
<text class="ax" transform="translate(499.4 990.1) rotate(-90)" textLength="70.1" lengthAdjust="spacingAndGlyphs">2016/24</text>
<text class="ax" transform="translate(527.2 990.1) rotate(-90)" textLength="70.1" lengthAdjust="spacingAndGlyphs">2016/29</text>
<text class="ax" transform="translate(555 990.1) rotate(-90)" textLength="70.1" lengthAdjust="spacingAndGlyphs">2016/34</text>
<text class="ax" transform="translate(582.9 990.1) rotate(-90)" textLength="70.1" lengthAdjust="spacingAndGlyphs">2016/39</text>
<text class="ax" transform="translate(610.7 990.1) rotate(-90)" textLength="70.1" lengthAdjust="spacingAndGlyphs">2016/44</text>
<text class="ax" transform="translate(638.5 990.1) rotate(-90)" textLength="70.1" lengthAdjust="spacingAndGlyphs">2016/49</text>
<text class="ax" transform="translate(666.3 980) rotate(-90)" textLength="60" lengthAdjust="spacingAndGlyphs">2017/2</text>
<text class="ax" transform="translate(694.1 980) rotate(-90)" textLength="60" lengthAdjust="spacingAndGlyphs">2017/7</text>
<text class="ax" transform="translate(721.9 990.1) rotate(-90)" textLength="70.1" lengthAdjust="spacingAndGlyphs">2017/12</text>
<text class="ax" transform="translate(749.7 990.1) rotate(-90)" textLength="70.1" lengthAdjust="spacingAndGlyphs">2017/17</text>
<text class="ax" transform="translate(777.6 990.1) rotate(-90)" textLength="70.1" lengthAdjust="spacingAndGlyphs">2017/22</text>
<text class="ax" transform="translate(805.4 990.1) rotate(-90)" textLength="70.1" lengthAdjust="spacingAndGlyphs">2017/27</text>
<text class="ax" transform="translate(833.2 990.1) rotate(-90)" textLength="70.1" lengthAdjust="spacingAndGlyphs">2017/32</text>
<text class="ax" transform="translate(861 990.1) rotate(-90)" textLength="70.1" lengthAdjust="spacingAndGlyphs">2017/37</text>
<text class="ax" transform="translate(888.8 990.1) rotate(-90)" textLength="70.1" lengthAdjust="spacingAndGlyphs">2017/42</text>
<text class="ax" transform="translate(916.6 990.1) rotate(-90)" textLength="70.1" lengthAdjust="spacingAndGlyphs">2017/47</text>
<text class="ax" transform="translate(944.5 990.1) rotate(-90)" textLength="70.1" lengthAdjust="spacingAndGlyphs">2017/52</text>
<text class="ax" transform="translate(972.3 980) rotate(-90)" textLength="60" lengthAdjust="spacingAndGlyphs">2018/5</text>
</g>
<g>
<text class="tt" x="502.4" y="1107.6">The UK</text>
<path class="bar" d="M61.6 1435.8V1417.6h4.2V1435.8zM67.1 1435.8V1420h4.2V1435.8zM72.6 1435.8V1415.2h4.2V1435.8zM78.2 1435.8V1412.8h4.2V1435.8zM83.7 1435.8V1416h4.2V1435.8zM89.2 1435.8V1413.6h4.2V1435.8zM94.7 1435.8V1408h4.2V1435.8zM100.3 1435.8V1412.8h4.2V1435.8zM105.8 1435.8V1418.4h4.2V1435.8zM111.3 1435.8V1424.9h4.2V1435.8zM116.9 1435.8V1428.9h4.2V1435.8zM122.4 1435.8V1424.9h4.2V1435.8zM127.9 1435.8V1428.1h4.2V1435.8zM133.4 1435.8V1429.7h4.2V1435.8zM139 1435.8V1430.5h4.2V1435.8zM144.5 1435.8V1430h4.2V1435.8zM150 1435.8V1430.5h4.2V1435.8zM155.6 1435.8V1432.9h4.2V1435.8zM161.1 1435.8V1434.5h4.2V1435.8zM166.6 1435.8V1434.8h4.2V1435.8zM172.1 1435.8V1434.8h4.2V1435.8zM177.7 1435.8V1434.8h4.2V1435.8zM183.2 1435.8V1435h4.2V1435.8zM188.7 1435.8V1435h4.2V1435.8zM194.3 1435.8V1435.2h4.2V1435.8zM199.8 1435.8V1435.2h4.2V1435.8zM205.3 1435.8V1435.3h4.2V1435.8zM210.9 1435.8V1435.5h4.2V1435.8zM216.4 1435.8V1435.5h4.2V1435.8zM221.9 1435.8V1435.5h4.2V1435.8zM227.4 1435.8V1435.5h4.2V1435.8zM233 1435.8V1435.5h4.2V1435.8zM238.5 1435.8V1435.5h4.2V1435.8zM244 1435.8V1435.5h4.2V1435.8zM249.6 1435.8V1435.5h4.2V1435.8zM255.1 1435.8V1435.5h4.2V1435.8zM260.6 1435.8V1435.5h4.2V1435.8zM266.1 1435.8V1435.5h4.2V1435.8zM271.7 1435.8V1435.5h4.2V1435.8zM277.2 1435.8V1435.5h4.2V1435.8zM282.7 1435.8V1435.5h4.2V1435.8zM288.3 1435.8V1434.5h4.2V1435.8zM293.8 1435.8V1434.5h4.2V1435.8zM299.3 1435.8V1434.5h4.2V1435.8zM304.8 1435.8V1434.5h4.2V1435.8zM310.4 1435.8V1434.5h4.2V1435.8zM315.9 1435.8V1434.5h4.2V1435.8zM321.4 1435.8V1434.5h4.2V1435.8zM327 1435.8V1434.5h4.2V1435.8zM332.5 1435.8V1434.5h4.2V1435.8zM338 1435.8V1432.9h4.2V1435.8zM343.5 1435.8V1426.5h4.2V1435.8zM349.1 1435.8V1424.9h4.2V1435.8zM354.6 1435.8V1415.2h4.2V1435.8zM360.1 1435.8V1416.8h4.2V1435.8zM365.7 1435.8V1407.2h4.2V1435.8zM371.2 1435.8V1394h4.2V1435.8zM376.7 1435.8V1402.8h4.2V1435.8zM382.3 1435.8V1389.9h4.2V1435.8zM387.8 1435.8V1381.1h4.2V1435.8zM393.3 1435.8V1379.5h4.2V1435.8zM398.8 1435.8V1371.5h4.2V1435.8zM404.4 1435.8V1366.6h4.2V1435.8zM409.9 1435.8V1351.4h4.2V1435.8zM415.4 1435.8V1369h4.2V1435.8zM421 1435.8V1380.3h4.2V1435.8zM426.5 1435.8V1392.4h4.2V1435.8zM432 1435.8V1406.8h4.2V1435.8zM437.5 1435.8V1416.5h4.2V1435.8zM443.1 1435.8V1424.5h4.2V1435.8zM448.6 1435.8V1419.7h4.2V1435.8zM454.1 1435.8V1426.1h4.2V1435.8zM459.7 1435.8V1429.3h4.2V1435.8zM465.2 1435.8V1432.6h4.2V1435.8zM470.7 1435.8V1435h4.2V1435.8zM476.2 1435.8V1435.1h4.2V1435.8zM481.8 1435.8V1435.1h4.2V1435.8zM487.3 1435.8V1435.1h4.2V1435.8zM492.8 1435.8V1435.1h4.2V1435.8zM498.4 1435.8V1435.1h4.2V1435.8zM503.9 1435.8V1435.1h4.2V1435.8zM509.4 1435.8V1435.1h4.2V1435.8zM515 1435.8V1435.1h4.2V1435.8zM520.5 1435.8V1435.1h4.2V1435.8zM526 1435.8V1435.1h4.2V1435.8zM531.5 1435.8V1435.1h4.2V1435.8zM537.1 1435.8V1435.1h4.2V1435.8zM542.6 1435.8V1435.1h4.2V1435.8zM548.1 1435.8V1435.1h4.2V1435.8zM553.7 1435.8V1435.1h4.2V1435.8zM559.2 1435.8V1435.1h4.2V1435.8zM564.7 1435.8V1435.1h4.2V1435.8zM570.2 1435.8V1435.1h4.2V1435.8zM575.8 1435.8V1435.1h4.2V1435.8zM581.3 1435.8V1435.1h4.2V1435.8zM586.8 1435.8V1435.1h4.2V1435.8zM592.4 1435.8V1435.1h4.2V1435.8zM597.9 1435.8V1435.1h4.2V1435.8zM603.4 1435.8V1434.5h4.2V1435.8zM608.9 1435.8V1433.4h4.2V1435.8zM614.5 1435.8V1432.6h4.2V1435.8zM620 1435.8V1420.5h4.2V1435.8zM625.5 1435.8V1419.7h4.2V1435.8zM631.1 1435.8V1400.4h4.2V1435.8zM636.6 1435.8V1384.3h4.2V1435.8zM642.1 1435.8V1369.8h4.2V1435.8zM647.6 1435.8V1354.6h4.2V1435.8zM653.2 1435.8V1369.8h4.2V1435.8zM658.7 1435.8V1375.5h4.2V1435.8zM664.2 1435.8V1369.8h4.2V1435.8zM669.8 1435.8V1381.1h4.2V1435.8zM675.3 1435.8V1395.6h4.2V1435.8zM680.8 1435.8V1396.4h4.2V1435.8zM686.4 1435.8V1405.2h4.2V1435.8zM691.9 1435.8V1414.9h4.2V1435.8zM697.4 1435.8V1422.9h4.2V1435.8zM702.9 1435.8V1425.3h4.2V1435.8zM708.5 1435.8V1425.3h4.2V1435.8zM714 1435.8V1425.3h4.2V1435.8zM719.5 1435.8V1426.1h4.2V1435.8zM725.1 1435.8V1429.3h4.2V1435.8zM730.6 1435.8V1428.5h4.2V1435.8zM736.1 1435.8V1427.7h4.2V1435.8zM741.6 1435.8V1427.4h4.2V1435.8zM747.2 1435.8V1427.4h4.2V1435.8zM752.7 1435.8V1431h4.2V1435.8zM758.2 1435.8V1435.5h4.2V1435.8zM763.8 1435.8V1435.5h4.2V1435.8zM769.3 1435.8V1435.5h4.2V1435.8zM774.8 1435.8V1435.5h4.2V1435.8zM780.3 1435.8V1435.5h4.2V1435.8zM785.9 1435.8V1435.5h4.2V1435.8zM791.4 1435.8V1435.5h4.2V1435.8zM796.9 1435.8V1435.5h4.2V1435.8zM802.5 1435.8V1435.5h4.2V1435.8zM808 1435.8V1435.5h4.2V1435.8zM813.5 1435.8V1435.5h4.2V1435.8zM819 1435.8V1435.5h4.2V1435.8zM824.6 1435.8V1435.5h4.2V1435.8zM830.1 1435.8V1435.5h4.2V1435.8zM835.6 1435.8V1435.4h4.2V1435.8zM841.2 1435.8V1435.4h4.2V1435.8zM846.7 1435.8V1435.4h4.2V1435.8zM852.2 1435.8V1435.4h4.2V1435.8zM857.8 1435.8V1433h4.2V1435.8zM863.3 1435.8V1433.8h4.2V1435.8zM868.8 1435.8V1434.6h4.2V1435.8zM874.3 1435.8V1434.6h4.2V1435.8zM879.9 1435.8V1433.8h4.2V1435.8zM885.4 1435.8V1432.2h4.2V1435.8zM890.9 1435.8V1430.5h4.2V1435.8zM896.5 1435.8V1424.1h4.2V1435.8zM902 1435.8V1422.5h4.2V1435.8zM907.5 1435.8V1408.8h4.2V1435.8zM913 1435.8V1383.9h4.2V1435.8zM918.6 1435.8V1318.8h4.2V1435.8zM924.1 1435.8V1286.7h4.2V1435.8zM929.6 1435.8V1232.8h4.2V1435.8zM935.2 1435.8V1214.3h4.2V1435.8zM940.7 1435.8V1232h4.2V1435.8zM946.2 1435.8V1246.5h4.2V1435.8zM951.7 1435.8V1265h4.2V1435.8zM957.3 1435.8V1293.9h4.2V1435.8zM962.8 1435.8V1286.7h4.2V1435.8zM968.3 1435.8V1261.8h4.2V1435.8z"/>
<path class="axl" d="M60.9 1162.8V1435.8H973.2M60.9 1435.8h6.8M60.9 1408.5h6.8M60.9 1381.2h6.8M60.9 1353.9h6.8M60.9 1326.6h6.8M60.9 1299.3h6.8M60.9 1272h6.8M60.9 1244.7h6.8M60.9 1217.4h6.8M60.9 1190.1h6.8M60.9 1162.8h6.8M60.9 1435.8v7M77.5 1435.8v7M94.1 1435.8v7M110.7 1435.8v7M127.2 1435.8v7M143.8 1435.8v7M160.4 1435.8v7M177 1435.8v7M193.6 1435.8v7M210.2 1435.8v7M226.8 1435.8v7M243.4 1435.8v7M259.9 1435.8v7M276.5 1435.8v7M293.1 1435.8v7M309.7 1435.8v7M326.3 1435.8v7M342.9 1435.8v7M359.5 1435.8v7M376.1 1435.8v7M392.6 1435.8v7M409.2 1435.8v7M425.8 1435.8v7M442.4 1435.8v7M459 1435.8v7M475.6 1435.8v7M492.2 1435.8v7M508.8 1435.8v7M525.3 1435.8v7M541.9 1435.8v7M558.5 1435.8v7M575.1 1435.8v7M591.7 1435.8v7M608.3 1435.8v7M624.9 1435.8v7M641.5 1435.8v7M658 1435.8v7M674.6 1435.8v7M691.2 1435.8v7M707.8 1435.8v7M724.4 1435.8v7M741 1435.8v7M757.6 1435.8v7M774.2 1435.8v7M790.7 1435.8v7M807.3 1435.8v7M823.9 1435.8v7M840.5 1435.8v7M857.1 1435.8v7M873.7 1435.8v7M890.3 1435.8v7M906.9 1435.8v7M923.4 1435.8v7M940 1435.8v7M956.6 1435.8v7M973.2 1435.8v7"/>
<clipPath id="clip2"><rect x="0" y="0" width="995" height="1436.7"/></clipPath>
<g clip-path="url(#clip2)">
<polyline class="pred" points="63.7,1422.9 69.2,1416 74.7,1411.7 80.3,1417.6 85.8,1412.8 91.3,1411.2 96.8,1409.6 102.4,1409.1 107.9,1411.7 113.4,1422.5 119,1427.3 124.5,1426.5 130,1425.2 135.5,1427.3 141.1,1428.1 146.6,1428.4 152.1,1427.3 157.7,1431 163.2,1432.9 168.7,1432.9 174.2,1432.6 179.8,1432.6 185.3,1432.9 190.8,1433.2 196.4,1433.7 201.9,1434.2 207.4,1434.8 213,1435.3 218.5,1435.3 224,1435.3 229.5,1435.3 235.1,1435.3 240.6,1435.3 246.1,1435.3 251.7,1435.3 257.2,1435.3 262.7,1435.3 268.2,1435.3 273.8,1435.3 279.3,1435.3 284.8,1435.3 290.4,1431.3 295.9,1433.7 301.4,1434.2 306.9,1432.9 312.5,1432.1 318,1433.2 323.5,1432.9 329.1,1431.6 334.6,1430 340.1,1431 345.6,1424.1 351.2,1420.9 356.7,1416.8 362.2,1413.3 367.8,1411.2 373.3,1407.6 378.8,1391.6 384.4,1402 389.9,1390.8 395.4,1382.7 400.9,1380.3 406.5,1374.7 412,1369 417.5,1354.6 423.1,1373.1 428.6,1383.5 434.1,1398.8 439.6,1410.9 445.2,1421.3 450.7,1423.7 456.2,1422.1 461.8,1426.1 467.3,1431 472.8,1433.4 478.3,1434.5 483.9,1435 489.4,1435 494.9,1435 500.5,1435 506,1435 511.5,1435 517.1,1435 522.6,1435 528.1,1435 533.6,1435 539.2,1435 544.7,1435 550.2,1435 555.8,1435 561.3,1435 566.8,1435 572.3,1435 577.9,1433.8 583.4,1434.5 588.9,1433.8 594.5,1434.5 600,1433.4 605.5,1432.2 611,1429.7 616.6,1431 622.1,1425.3 627.6,1414.9 633.2,1406.8 638.7,1390.8 644.2,1377.9 649.7,1364.2 655.3,1348.9 660.8,1371.5 666.3,1381.9 671.9,1374.7 677.4,1391.6 682.9,1404.4 688.5,1399.6 694,1410 699.5,1418.9 705,1422.9 710.6,1422.1 716.1,1422.1 721.6,1423.7 727.2,1426.9 732.7,1425.3 738.2,1424.8 743.7,1424.5 749.3,1423.7 754.8,1427.7 760.3,1434.2 765.9,1435 771.4,1435 776.9,1435 782.4,1435 788,1435 793.5,1435 799,1435 804.6,1435 810.1,1435 815.6,1435 821.1,1435 826.7,1435 832.2,1435 837.7,1435 843.3,1435 848.8,1435 854.3,1435 859.9,1434.2 865.4,1431.3 870.9,1431 876.4,1431.7 882,1432.6 887.5,1431.7 893,1429.4 898.6,1426.5 904.1,1424.1 909.6,1418.5 915.1,1400.8 920.7,1373.5 926.2,1323.7 931.7,1273.8 937.3,1217.5 942.8,1214.3 948.3,1233.6 953.8,1249.7 959.4,1256.9 964.9,1304.4 970.4,1300.3"/>
<polyline class="lcl" points="63.7,1430.5 69.2,1424.9 74.7,1420.9 80.3,1424.9 85.8,1422 91.3,1420.9 96.8,1419.6 102.4,1419.2 107.9,1421.3 113.4,1428.9 119,1432.1 124.5,1431.6 130,1431 135.5,1432.1 141.1,1432.4 146.6,1432.6 152.1,1432.1 157.7,1434.2 163.2,1435.3 168.7,1435.5 174.2,1435.5 179.8,1435.5 185.3,1435.6 190.8,1435.6 196.4,1435.8 201.9,1435.8 207.4,1436 213,1436.1 218.5,1436.1 224,1436.1 229.5,1436.1 235.1,1436.1 240.6,1436.1 246.1,1436.1 251.7,1436.1 257.2,1436.1 262.7,1436.1 268.2,1436.1 273.8,1436.1 279.3,1436.1 284.8,1436.1 290.4,1436.1 295.9,1436.1 301.4,1436.1 306.9,1436.1 312.5,1436.1 318,1436.1 323.5,1436.1 329.1,1436.1 334.6,1434.5 340.1,1435.3 345.6,1431.3 351.2,1428.1 356.7,1424.9 362.2,1422.5 367.8,1422.5 373.3,1417.3 378.8,1406.8 384.4,1412.5 389.9,1402.8 395.4,1395.6 400.9,1392.4 406.5,1387.5 412,1381.9 417.5,1372.3 423.1,1384.3 428.6,1394 434.1,1408.4 439.6,1419.7 445.2,1427.7 450.7,1430.1 456.2,1429.3 461.8,1431.8 467.3,1434.5 472.8,1435.8 478.3,1435.8 483.9,1435.8 489.4,1435.8 494.9,1435.8 500.5,1435.8 506,1435.8 511.5,1435.8 517.1,1435.8 522.6,1435.8 528.1,1435.8 533.6,1435.8 539.2,1435.8 544.7,1435.8 550.2,1435.8 555.8,1435.8 561.3,1435.8 566.8,1435.8 572.3,1435.8 577.9,1435.8 583.4,1435.8 588.9,1435.8 594.5,1435.8 600,1435.8 605.5,1435.8 611,1434.2 616.6,1434.5 622.1,1431.8 627.6,1424.5 633.2,1418.1 638.7,1403.6 644.2,1391.6 649.7,1380.3 655.3,1366.6 660.8,1385.9 666.3,1394.8 671.9,1390.8 677.4,1404.4 682.9,1413.3 688.5,1412.5 694,1419.7 699.5,1426.1 705,1428.5 710.6,1429 716.1,1429 721.6,1429.3 727.2,1431.8 732.7,1431 738.2,1430.6 743.7,1430.6 749.3,1430.1 754.8,1432.6 760.3,1435.5 765.9,1435.8 771.4,1435.8 776.9,1435.8 782.4,1435.8 788,1435.8 793.5,1435.8 799,1435.8 804.6,1435.8 810.1,1435.8 815.6,1435.8 821.1,1435.8 826.7,1435.8 832.2,1435.8 837.7,1435.9 843.3,1435.9 848.8,1435.9 854.3,1435.9 859.9,1435.9 865.4,1435.9 870.9,1435.9 876.4,1435.9 882,1435.9 887.5,1435.9 893,1435.9 898.6,1435.9 904.1,1435.9 909.6,1431.3 915.1,1412.1 920.7,1383.1 926.2,1333.3 931.7,1283.5 937.3,1232 942.8,1232 948.3,1252.9 953.8,1267.4 959.4,1273.8 964.9,1318.8"/>
<polyline class="ucl" points="63.7,1412.8 69.2,1405.6 74.7,1402 80.3,1406.9 85.8,1403.2 91.3,1401.6 96.8,1399.9 102.4,1399.1 107.9,1402.4 113.4,1415.2 119,1422 124.5,1420.9 130,1419.7 135.5,1421.7 141.1,1422.5 146.6,1422.9 152.1,1421.7 157.7,1427.3 163.2,1430.5 168.7,1430 174.2,1429.4 179.8,1428.9 185.3,1430.5 190.8,1431.3 196.4,1431 201.9,1432.1 207.4,1432.9 213,1433.2 218.5,1433.2 224,1433.2 229.5,1433.2 235.1,1433.2 240.6,1433.2 246.1,1433.2 251.7,1433.2 257.2,1433.2 262.7,1433.2 268.2,1433.2 273.8,1433.2 279.3,1433.2 284.8,1433.2 290.4,1427.3 295.9,1431 301.4,1431.6 306.9,1430 312.5,1431 318,1431.3 323.5,1431 329.1,1429.7 334.6,1426.5 340.1,1427.8 345.6,1418.4 351.2,1414.4 356.7,1408.8 362.2,1404 367.8,1400.8 373.3,1395.6 378.8,1380.3 384.4,1390.8 389.9,1375.5 395.4,1367.4 400.9,1365 406.5,1359.4 412,1352.2 417.5,1336.9 423.1,1356.2 428.6,1368.2 434.1,1387.5 439.6,1402 445.2,1414.1 450.7,1416.8 456.2,1414.9 461.8,1419.7 467.3,1426.9 472.8,1430.1 478.3,1431.8 483.9,1433.8 489.4,1433.4 494.9,1433 500.5,1432.6 506,1432.6 511.5,1432.6 517.1,1432.6 522.6,1432.6 528.1,1432.6 533.6,1432.2 539.2,1432.6 544.7,1434.2 550.2,1433.8 555.8,1433.8 561.3,1432.6 566.8,1432.6 572.3,1431.8 577.9,1430.1 583.4,1431.8 588.9,1431 594.5,1431.8 600,1430.1 605.5,1428.5 611,1425.3 616.6,1426.1 622.1,1419.7 627.6,1405.2 633.2,1394 638.7,1376.3 644.2,1362.6 649.7,1347.3 655.3,1332.1 660.8,1357 666.3,1367.4 671.9,1359.4 677.4,1378.7 682.9,1392.4 688.5,1387.5 694,1397.2 699.5,1409.2 705,1414.9 710.6,1413.3 716.1,1413.3 721.6,1416.5 727.2,1421.3 732.7,1418.9 738.2,1418.1 743.7,1417.3 749.3,1416.5 754.8,1421.3 760.3,1431 765.9,1432.6 771.4,1434.5 776.9,1434.5 782.4,1433.8 788,1433.4 793.5,1434.2 799,1433.8 804.6,1433.8 810.1,1433.8 815.6,1433.8 821.1,1433.8 826.7,1433.8 832.2,1433.8 837.7,1433.8 843.3,1433.8 848.8,1433.8 854.3,1433.8 859.9,1421.7 865.4,1418.8 870.9,1418.5 876.4,1419.8 882,1420.9 887.5,1419.8 893,1416.9 898.6,1414.5 904.1,1412.1 909.6,1407.2 915.1,1389.5 920.7,1363.8 926.2,1314 931.7,1264.2 937.3,1203.1 942.8,1199.8 948.3,1220.8 953.8,1236.8 959.4,1244.9 964.9,1288.3 970.4,1284.3"/>
</g>
<text class="ax" text-anchor="end" x="40.6" y="1441.5">0</text>
<text class="ax" text-anchor="end" x="40.6" y="1414.2">500</text>
<text class="ax" text-anchor="end" x="40.6" y="1386.9">1000</text>
<text class="ax" text-anchor="end" x="40.6" y="1359.6">1500</text>
<text class="ax" text-anchor="end" x="40.6" y="1332.3">2000</text>
<text class="ax" text-anchor="end" x="40.6" y="1305">2500</text>
<text class="ax" text-anchor="end" x="40.6" y="1277.7">3000</text>
<text class="ax" text-anchor="end" x="40.6" y="1250.4">3500</text>
<text class="ax" text-anchor="end" x="40.6" y="1223.1">4000</text>
<text class="ax" text-anchor="end" x="40.6" y="1195.8">4500</text>
<text class="ax" text-anchor="end" x="40.6" y="1168.5">5000</text>
<text class="ax" transform="translate(70.2 1509) rotate(-90)" textLength="60" lengthAdjust="spacingAndGlyphs">2015/1</text>
<text class="ax" transform="translate(97.8 1509) rotate(-90)" textLength="60" lengthAdjust="spacingAndGlyphs">2015/6</text>
<text class="ax" transform="translate(125.5 1519.1) rotate(-90)" textLength="70.1" lengthAdjust="spacingAndGlyphs">2015/11</text>
<text class="ax" transform="translate(153.1 1519.1) rotate(-90)" textLength="70.1" lengthAdjust="spacingAndGlyphs">2015/16</text>
<text class="ax" transform="translate(180.7 1519.1) rotate(-90)" textLength="70.1" lengthAdjust="spacingAndGlyphs">2015/21</text>
<text class="ax" transform="translate(208.4 1519.1) rotate(-90)" textLength="70.1" lengthAdjust="spacingAndGlyphs">2015/26</text>
<text class="ax" transform="translate(236 1519.1) rotate(-90)" textLength="70.1" lengthAdjust="spacingAndGlyphs">2015/31</text>
<text class="ax" transform="translate(263.7 1519.1) rotate(-90)" textLength="70.1" lengthAdjust="spacingAndGlyphs">2015/36</text>
<text class="ax" transform="translate(291.3 1519.1) rotate(-90)" textLength="70.1" lengthAdjust="spacingAndGlyphs">2015/41</text>
<text class="ax" transform="translate(319 1519.1) rotate(-90)" textLength="70.1" lengthAdjust="spacingAndGlyphs">2015/46</text>
<text class="ax" transform="translate(346.6 1519.1) rotate(-90)" textLength="70.1" lengthAdjust="spacingAndGlyphs">2015/51</text>
<text class="ax" transform="translate(374.3 1509) rotate(-90)" textLength="60" lengthAdjust="spacingAndGlyphs">2016/4</text>
<text class="ax" transform="translate(401.9 1509) rotate(-90)" textLength="60" lengthAdjust="spacingAndGlyphs">2016/9</text>
<text class="ax" transform="translate(429.6 1519.1) rotate(-90)" textLength="70.1" lengthAdjust="spacingAndGlyphs">2016/14</text>
<text class="ax" transform="translate(457.2 1519.1) rotate(-90)" textLength="70.1" lengthAdjust="spacingAndGlyphs">2016/19</text>
<text class="ax" transform="translate(484.8 1519.1) rotate(-90)" textLength="70.1" lengthAdjust="spacingAndGlyphs">2016/24</text>
<text class="ax" transform="translate(512.5 1519.1) rotate(-90)" textLength="70.1" lengthAdjust="spacingAndGlyphs">2016/29</text>
<text class="ax" transform="translate(540.1 1519.1) rotate(-90)" textLength="70.1" lengthAdjust="spacingAndGlyphs">2016/34</text>
<text class="ax" transform="translate(567.8 1519.1) rotate(-90)" textLength="70.1" lengthAdjust="spacingAndGlyphs">2016/39</text>
<text class="ax" transform="translate(595.4 1519.1) rotate(-90)" textLength="70.1" lengthAdjust="spacingAndGlyphs">2016/44</text>
<text class="ax" transform="translate(623.1 1519.1) rotate(-90)" textLength="70.1" lengthAdjust="spacingAndGlyphs">2016/49</text>
<text class="ax" transform="translate(650.7 1509) rotate(-90)" textLength="60" lengthAdjust="spacingAndGlyphs">2017/2</text>
<text class="ax" transform="translate(678.4 1509) rotate(-90)" textLength="60" lengthAdjust="spacingAndGlyphs">2017/7</text>
<text class="ax" transform="translate(706 1519.1) rotate(-90)" textLength="70.1" lengthAdjust="spacingAndGlyphs">2017/12</text>
<text class="ax" transform="translate(733.7 1519.1) rotate(-90)" textLength="70.1" lengthAdjust="spacingAndGlyphs">2017/17</text>
<text class="ax" transform="translate(761.3 1519.1) rotate(-90)" textLength="70.1" lengthAdjust="spacingAndGlyphs">2017/22</text>
<text class="ax" transform="translate(788.9 1519.1) rotate(-90)" textLength="70.1" lengthAdjust="spacingAndGlyphs">2017/27</text>
<text class="ax" transform="translate(816.6 1519.1) rotate(-90)" textLength="70.1" lengthAdjust="spacingAndGlyphs">2017/32</text>
<text class="ax" transform="translate(844.2 1519.1) rotate(-90)" textLength="70.1" lengthAdjust="spacingAndGlyphs">2017/37</text>
<text class="ax" transform="translate(871.9 1519.1) rotate(-90)" textLength="70.1" lengthAdjust="spacingAndGlyphs">2017/42</text>
<text class="ax" transform="translate(899.5 1519.1) rotate(-90)" textLength="70.1" lengthAdjust="spacingAndGlyphs">2017/47</text>
<text class="ax" transform="translate(927.2 1519.1) rotate(-90)" textLength="70.1" lengthAdjust="spacingAndGlyphs">2017/52</text>
<text class="ax" transform="translate(954.8 1509) rotate(-90)" textLength="60" lengthAdjust="spacingAndGlyphs">2018/5</text>
</g>
<g>
<rect x="266.3" y="83.1" width="59.6" height="12.6" fill="#C00000"/>
<text class="lg" x="331.6" y="95.2" textLength="80.6" lengthAdjust="spacingAndGlyphs">Observed</text>
<path class="pred" d="M424.1 89H481"/>
<text class="lg" x="487.6" y="95.2" textLength="81" lengthAdjust="spacingAndGlyphs">Predicted</text>
<path class="lcl" d="M580.2 89.1H636.5"/>
<text class="lg" x="644.8" y="95.2" textLength="28.4" lengthAdjust="spacingAndGlyphs">LCL</text>
<path class="ucl" d="M684 89.1H741"/>
<text class="lg" x="748.8" y="95.2" textLength="32.6" lengthAdjust="spacingAndGlyphs">UCL</text>
</g>
</svg></body></html>
